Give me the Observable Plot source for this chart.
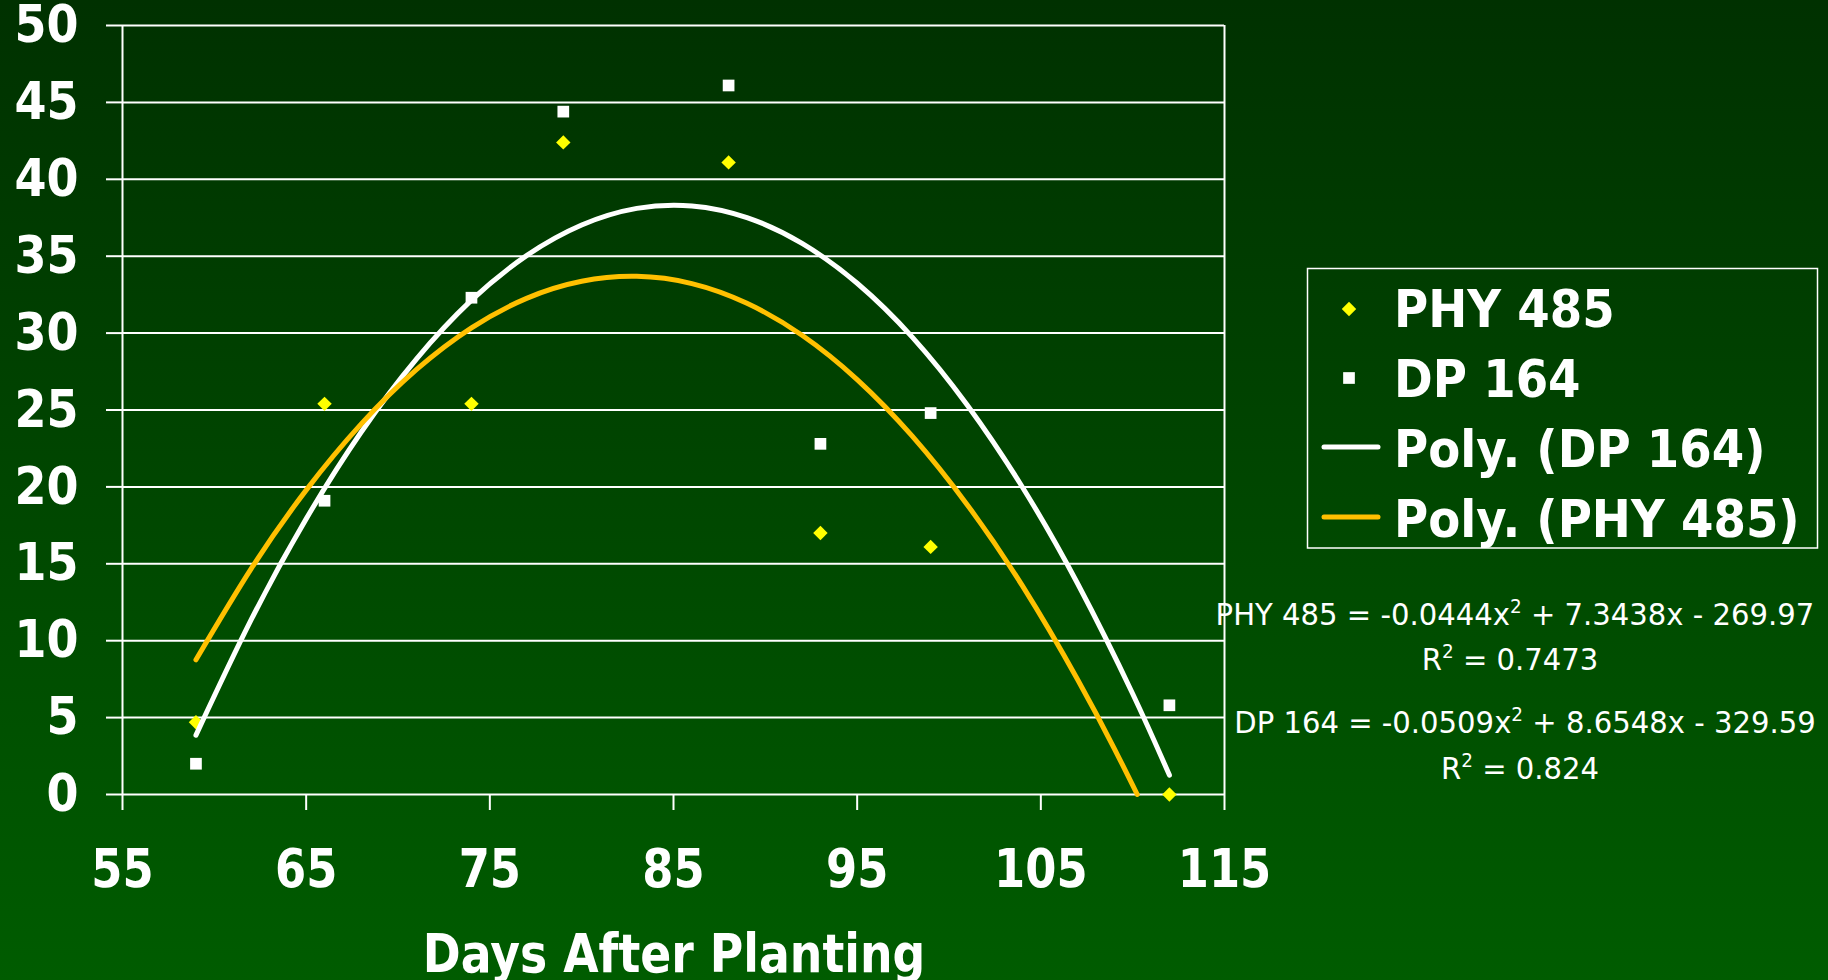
<!DOCTYPE html>
<html>
<head>
<meta charset="utf-8">
<script src="https://cdn.jsdelivr.net/npm/d3@7"></script>
<script src="https://cdn.jsdelivr.net/npm/@observablehq/plot@0.6"></script>
<style>
  html, body { margin: 0; padding: 0; width: 1828px; height: 980px; overflow: hidden;
    background: linear-gradient(to bottom, #003100 0%, #005c00 100%); }
  #chart svg { display: block; }
</style>
</head>
<body>
<div id="chart"></div>
<script>
// ---- data ----
const days   = [59, 66, 74, 79, 88, 93, 99, 112];
const phy485 = [4.7, 25.4, 25.4, 42.4, 41.1, 17.0, 16.1, 0.0];
const dp164  = [2.0, 19.1, 32.3, 44.4, 46.1, 22.8, 24.8, 5.8];

// polynomial trendlines as drawn in the chart
const phyTrendDays = [59, 62, 65, 68, 71, 74, 77, 80, 83, 86, 89, 92, 95, 98, 101, 104, 107, 109, 110.25];
const phyTrendVals = [8.76, 14.67, 19.79, 24.10, 27.62, 30.34, 32.26, 33.37, 33.69, 33.22, 31.94, 29.86, 26.98, 23.30, 18.83, 13.56, 7.48, 2.99, 0];
const dpTrendDays  = [59, 62, 65, 68, 71, 74, 77, 80, 83, 86, 89, 92, 95, 98, 101, 104, 107, 110, 112];
const dpTrendVals  = [3.86, 11.35, 17.92, 23.57, 28.31, 32.14, 35.04, 37.03, 38.11, 38.27, 37.51, 35.83, 33.24, 29.74, 25.31, 19.98, 13.72, 6.55, 1.26];

const xTicks = [55, 65, 75, 85, 95, 105, 115];
const yTicks = [0, 5, 10, 15, 20, 25, 30, 35, 40, 45, 50];
const xLabel = "Days After Planting";
const legendNames = ["PHY 485", "DP 164", "Poly. (DP 164)", "Poly. (PHY 485)"];
const equationLines = [
  ["PHY 485 = -0.0444x", "2", " + 7.3438x - 269.97"],
  ["R", "2", " = 0.7473"],
  ["DP 164 = -0.0509x", "2", " + 8.6548x - 329.59"],
  ["R", "2", " = 0.824"]
];

// ---- tables built from the arrays ----
const phyPts = days.map((d, i) => ({day: d, value: phy485[i]}));
const dpPts  = days.map((d, i) => ({day: d, value: dp164[i]}));
const phyTrend = phyTrendDays.map((d, i) => ({day: d, value: phyTrendVals[i]}));
const dpTrend  = dpTrendDays.map((d, i) => ({day: d, value: dpTrendVals[i]}));

const WHITE = "#ffffff", YELLOW = "#ffff00", GOLD = "#ffc000";
const FONT = "DejaVu Sans";

const chart = Plot.plot({
  width: 1828,
  height: 980,
  marginLeft: 122,
  marginRight: 604,
  marginTop: 25,
  marginBottom: 186,
  style: {background: "transparent", color: WHITE, overflow: "visible", fontFamily: FONT},
  x: {domain: [xTicks[0], xTicks[xTicks.length - 1]]},
  y: {domain: [yTicks[0], yTicks[yTicks.length - 1]]},
  marks: [
    Plot.ruleY(yTicks, {stroke: WHITE, strokeWidth: 2}),
    Plot.ruleX([xTicks[0], xTicks[xTicks.length - 1]], {stroke: WHITE, strokeWidth: 2}),
    Plot.axisY(yTicks, {tickSize: 16, tickPadding: 28, stroke: WHITE, strokeWidth: 2, strokeOpacity: 1,
      fontSize: 52, fontWeight: "bold", fontFamily: FONT, fill: WHITE, label: null}),
    Plot.axisX(xTicks, {tickSize: 16, tickPadding: 38, stroke: WHITE, strokeWidth: 2, strokeOpacity: 1,
      fontSize: 54, fontWeight: "bold", fontFamily: FONT, fill: WHITE, label: null}),
    Plot.dot(phyPts, {x: "day", y: "value", symbol: "diamond2", r: 6.5, fill: YELLOW, stroke: "none"}),
    Plot.dot(dpPts, {x: "day", y: "value", symbol: "square", r: 6.6, fill: WHITE, stroke: "none"}),
    Plot.line(dpTrend, {x: "day", y: "value", stroke: WHITE, strokeWidth: 5, curve: "natural"}),
    Plot.line(phyTrend, {x: "day", y: "value", stroke: GOLD, strokeWidth: 5, curve: "natural"})
  ]
});
document.getElementById("chart").appendChild(chart);

const svg = d3.select(chart);
// narrow the bold tick labels to the reference's proportions
svg.selectAll('g[aria-label="y-axis tick label"] text').each(function() {
  this.setAttribute("transform", (this.getAttribute("transform") || "") + " scale(0.885,1)");
});
svg.selectAll('g[aria-label="x-axis tick label"] text').each(function() {
  this.setAttribute("transform", (this.getAttribute("transform") || "") + " scale(0.83,1)");
});

// x-axis title
svg.append("text")
  .attr("transform", "translate(674,972) scale(0.855,1)")
  .attr("text-anchor", "middle")
  .attr("font-family", FONT).attr("font-weight", "bold").attr("font-size", 53.5)
  .attr("fill", WHITE)
  .text(xLabel);

// legend
const lg = svg.append("g").attr("text-anchor", "start");
lg.append("rect").attr("x", 1307.5).attr("y", 268.5).attr("width", 510).attr("height", 279.5)
  .attr("fill", "none").attr("stroke", WHITE).attr("stroke-width", 1.5);
const rowY = [309, 378, 447, 517];
const baseY = [327, 397, 467, 537];
lg.append("path").attr("transform", `translate(1349,${rowY[0]})`)
  .attr("d", d3.symbol(d3.symbolDiamond2, 6.5 * 6.5 * Math.PI)()).attr("fill", YELLOW);
lg.append("path").attr("transform", `translate(1349,${rowY[1]})`)
  .attr("d", d3.symbol(d3.symbolSquare, 6.6 * 6.6 * Math.PI)()).attr("fill", WHITE);
lg.append("line").attr("x1", 1324).attr("x2", 1378).attr("y1", rowY[2]).attr("y2", rowY[2])
  .attr("stroke", WHITE).attr("stroke-width", 5).attr("stroke-linecap", "round");
lg.append("line").attr("x1", 1324).attr("x2", 1378).attr("y1", rowY[3]).attr("y2", rowY[3])
  .attr("stroke", GOLD).attr("stroke-width", 5).attr("stroke-linecap", "round");
legendNames.forEach((name, i) => {
  lg.append("text")
    .attr("transform", `translate(1394,${baseY[i]}) scale(0.915,1)`)
    .attr("text-anchor", "start")
    .attr("font-family", FONT).attr("font-weight", "bold").attr("font-size", 51)
    .attr("fill", WHITE).text(name);
});

// trendline equations
const eqPos = [[1515, 625], [1510, 670], [1525, 733], [1520, 779]];
equationLines.forEach((parts, i) => {
  const t = svg.append("text")
    .attr("transform", `translate(${eqPos[i][0]},${eqPos[i][1]}) scale(0.97,1)`)
    .attr("text-anchor", "middle")
    .attr("font-family", FONT).attr("font-size", 30).attr("fill", WHITE);
  t.append("tspan").text(parts[0]);
  t.append("tspan").attr("font-size", 19).attr("dy", -12).text(parts[1]);
  t.append("tspan").attr("font-size", 30).attr("dy", 12).text(parts[2]);
});
</script>
</body>
</html>
